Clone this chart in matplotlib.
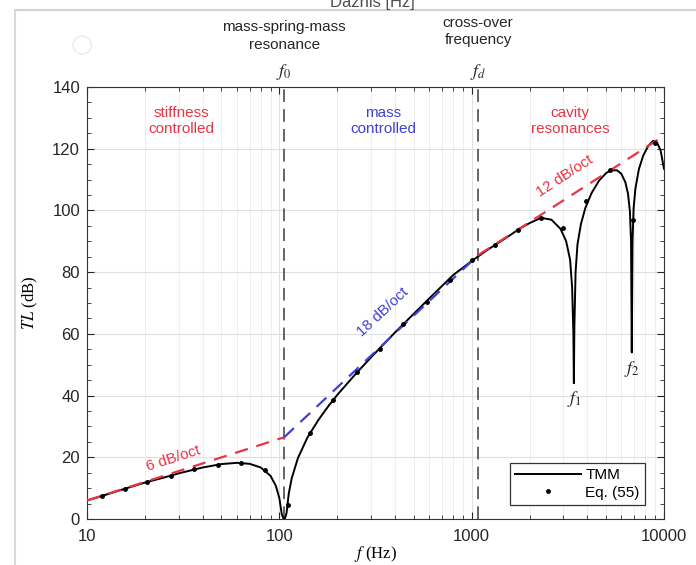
#!/usr/bin/env python3

import matplotlib
matplotlib.use('Agg')
import matplotlib.pyplot as plt
from matplotlib.lines import Line2D
from matplotlib.patches import Ellipse
from matplotlib.ticker import FixedLocator, LogLocator, NullFormatter, MultipleLocator

# TMM curve
tmm_f = [10, 12, 15, 20, 25, 30, 40, 50, 60, 70, 80, 90, 96, 100, 103, 105, 106, 107, 109,
         112, 116, 125, 140, 160, 180, 200, 250, 300, 400, 500, 600, 800, 1000, 1200, 1500,
         1800, 2000, 2300, 2600, 2900, 3100, 3250, 3330, 3380, 3400, 3420, 3470, 3550, 3700,
         3900, 4200, 4600, 5000, 5300, 5700, 6000, 6300, 6500, 6650, 6740, 6800, 6860, 6950,
         7100, 7400, 7800, 8300, 8800, 9200, 9600, 10000]
tmm_tl = [6.0, 7.5, 9.4, 11.8, 13.4, 14.8, 16.7, 17.8, 18.2, 17.9, 16.7, 14.0, 10.7, 6.8, 1.5,
          0.2, 0.0, 0.2, 1.9, 8.3, 13.2, 19.8, 26.4, 32.2, 36.6, 40.2, 47.1, 52.4, 60.5, 66.5,
          71.4, 79.0, 83.6, 87.1, 91.0, 94.3, 95.9, 97.6, 97.0, 94.0, 90.0, 84.0, 75.0, 60.0,
          44.0, 62.0, 80.0, 89.0, 95.6, 100.8, 105.6, 109.7, 112.1, 113.0, 113.0, 111.9, 109.1,
          105.4, 99.7, 90.0, 54.0, 90.0, 100.6, 107.0, 113.3, 117.8, 121.0, 122.6, 122.0,
          119.5, 113.5]

# Eq. (55) points
eq_f = [12.0, 15.8, 20.6, 27.3, 36.2, 48.0, 63.5, 84.0, 110.6, 145, 191, 253, 334, 441, 583,
        770, 1010, 1330, 1740, 2290, 3000, 3950, 5230, 6920, 9000]
eq_tl = [7.5, 9.8, 11.9, 14.1, 16.1, 17.6, 18.2, 15.9, 4.5, 28.0, 38.6, 47.5, 55.0, 63.2, 70.2,
         77.5, 84.0, 88.8, 93.5, 97.4, 94.4, 103.0, 113.0, 97.0, 122.0]

# asymptotes: stiffness, mass, cavity
f0, fd = 106, 1080
stiff_f, stiff_tl = [10, f0], [6.0, 26.5]
mass_f, mass_tl = [f0, fd], [26.5, 85.5]
cav_f, cav_tl = [fd, 10000], [85.5, 124.2]

red = (0.92, 0.2, 0.27)
blue = (0.25, 0.25, 0.85)

plt.rcParams['font.family'] = ['Liberation Sans', 'DejaVu Sans']
plt.rcParams['mathtext.fontset'] = 'stix'

fig = plt.figure(figsize=(6.96, 5.65), dpi=100)
ax = fig.add_axes([0.125, 0.0814, 0.829, 0.7646])

ax.plot(tmm_f, tmm_tl, 'k-', lw=1.4, zorder=3)
ax.plot(stiff_f, stiff_tl, '--', color=red, lw=1.6, dashes=(6, 4), zorder=4)
ax.plot(mass_f, mass_tl, '--', color=blue, lw=1.6, dashes=(6, 4), zorder=4)
ax.plot(cav_f, cav_tl, '--', color=red, lw=1.6, dashes=(6, 4), zorder=4)
ax.plot(eq_f, eq_tl, 'k.', ms=5, zorder=5)
for fx in (f0, fd):
    ax.axvline(fx, color='0.35', lw=1.3, dashes=(7, 4), zorder=2)

ax.set_xscale('log')
ax.set_xlim(10, 10000)
ax.set_ylim(0, 140)
ax.xaxis.set_major_locator(FixedLocator([10, 100, 1000, 10000]))
ax.set_xticklabels(['10', '100', '1000', '10000'])
ax.xaxis.set_minor_locator(LogLocator(base=10, subs=range(2, 10)))
ax.xaxis.set_minor_formatter(NullFormatter())
ax.yaxis.set_major_locator(MultipleLocator(20))
ax.yaxis.set_minor_locator(MultipleLocator(5))
ax.tick_params(which='both', direction='in', top=True, right=True, labelsize=12, colors='0.15')
ax.tick_params(which='major', length=5)
ax.tick_params(which='minor', length=3)
ax.tick_params(axis='x', which='major', pad=7)
ax.tick_params(axis='y', which='major', pad=5)
ax.grid(True, which='major', color='0.88', lw=0.8)
ax.grid(True, which='minor', axis='x', color='0.92', lw=0.6)
for s in ax.spines.values():
    s.set_color('0.2')

ax.set_xlabel(r'$f$ (Hz)', family='Liberation Serif', fontsize=12, labelpad=0)
ax.set_ylabel(r'$TL$ (dB)', family='Liberation Serif', fontsize=12, labelpad=9)

# annotations
ax.text(f0, 156.5, 'mass-spring-mass\nresonance', ha='center', va='center', fontsize=11,
        color='0.15', linespacing=1.3, clip_on=False)
ax.text(fd, 158, 'cross-over\nfrequency', ha='center', va='center', fontsize=11,
        color='0.15', linespacing=1.3, clip_on=False)
ax.text(f0, 145, r'$f_0$', ha='center', va='center', fontsize=13, color='0.15', clip_on=False)
ax.text(fd, 145, r'$f_d$', ha='center', va='center', fontsize=13, color='0.15', clip_on=False)
ax.text(31, 129, 'stiffness\ncontrolled', ha='center', va='center', fontsize=11, color=red)
ax.text(346, 129, 'mass\ncontrolled', ha='center', va='center', fontsize=11, color=blue)
ax.text(3250, 129, 'cavity\nresonances', ha='center', va='center', fontsize=11, color=red)
ax.text(28, 19.5, '6 dB/oct', ha='center', va='center', fontsize=11, color=red, rotation=18)
ax.text(345, 67, '18 dB/oct', ha='center', va='center', fontsize=11, color=blue, rotation=43)
ax.text(3050, 111, '12 dB/oct', ha='center', va='center', fontsize=11, color=red, rotation=33)
ax.text(3400, 39, r'$f_1$', ha='center', va='center', fontsize=13, color='0.15')
ax.text(6800, 48.5, r'$f_2$', ha='center', va='center', fontsize=13, color='0.15')

handles = [Line2D([], [], color='k', lw=1.4), Line2D([], [], color='k', marker='.', ms=5, ls='')]
leg = ax.legend(handles, ['TMM', 'Eq. (55)'], loc='lower right', bbox_to_anchor=(0.967, 0.032),
                borderaxespad=0, fontsize=11, fancybox=False, framealpha=1, edgecolor='0.2',
                handlelength=4.3, handletextpad=0.3, borderpad=0.35, labelspacing=0.25)
leg.get_frame().set_linewidth(0.9)

# screenshot remains around the figure
fig.add_artist(Line2D([0.0216, 1], [0.982, 0.982], color='0.82', lw=1.5))
fig.add_artist(Line2D([0.0216, 0.0216], [0, 0.982], color='0.85', lw=1.5))
fig.add_artist(Ellipse((0.118, 0.92), 0.026, 0.032, fill=False, edgecolor='0.93', lw=1.2))
fig.text(0.535, 0.995, 'Dažnis [Hz]', ha='center', va='center', fontsize=12, color='0.3')

fig.savefig('out.png', dpi=100)
